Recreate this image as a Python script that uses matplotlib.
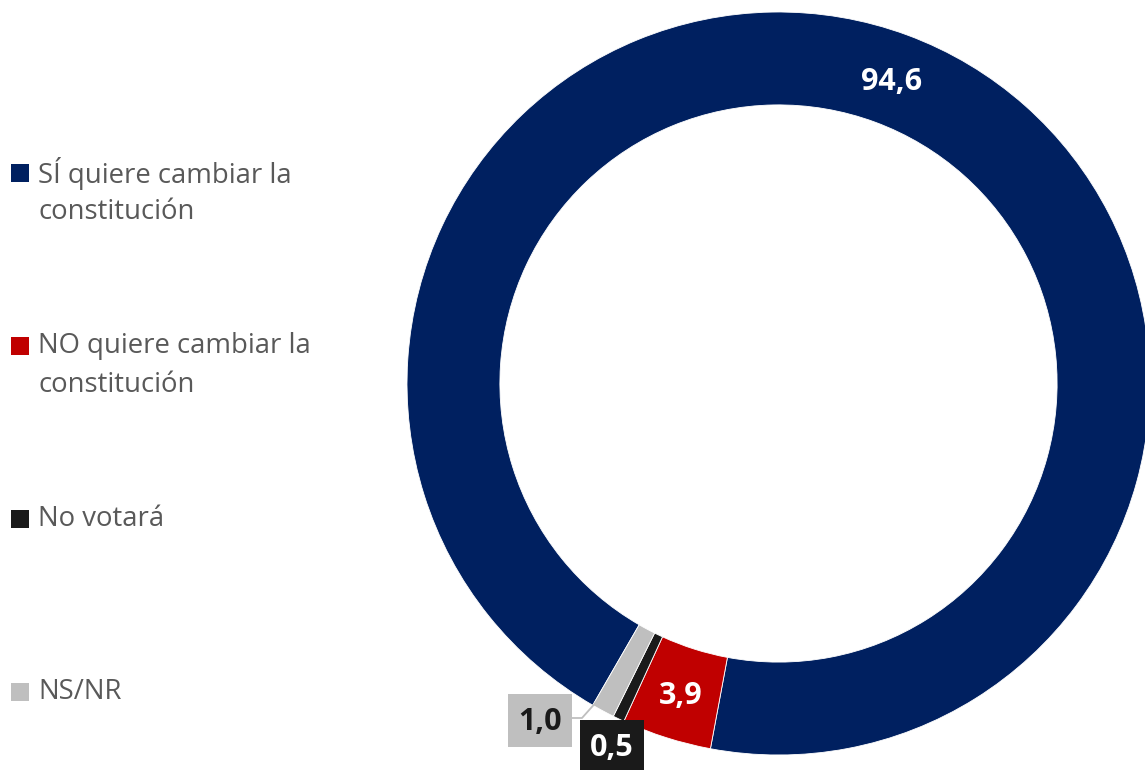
import numpy as np
import matplotlib.pyplot as plt
from matplotlib.patches import Rectangle

# data
categories = ["SÍ quiere cambiar la\nconstitución", "NO quiere cambiar la\nconstitución", "No votará", "NS/NR"]
values = [94.6, 3.9, 0.5, 1.0]
value_labels = ["94,6", "3,9", "0,5", "1,0"]
colors = ["#002060", "#C00000", "#1A1A1A", "#BFBFBF"]

W, H = 1145, 770
fig = plt.figure(figsize=(W / 100, H / 100), dpi=100)
ax = fig.add_axes([0, 0, 1, 1])

cx, cy = 778.5, H - 383.5
r_out, r_in = 371.5, 278.6
width = r_out - r_in
start = -120  # math degrees, slices go clockwise

wedges, _ = ax.pie(
    values,
    colors=colors,
    startangle=start,
    counterclock=False,
    radius=r_out,
    center=(cx, cy),
    wedgeprops=dict(width=width, edgecolor="white", linewidth=0.6),
)
ax.set_xlim(0, W)
ax.set_ylim(0, H)
ax.set_aspect("equal", adjustable="box")
ax.axis("off")

FONT = ["Open Sans", "DejaVu Sans"]
r_mid = (r_out + r_in) / 2


def mid_xy(w):
    ang = np.deg2rad((w.theta1 + w.theta2) / 2)
    return cx + r_mid * np.cos(ang), cy + r_mid * np.sin(ang)


# labels on the big slices
for i in (0, 1):
    x, y = mid_xy(wedges[i])
    ax.text(x, y - 3, value_labels[i], color="white", fontsize=22, fontweight="bold",
            ha="center", va="center", family=FONT)

# boxed labels for the small slices
box_w, box_h = 64, 53
boxes = {2: (612, H - 746, "white"), 3: (540, H - 720, "#1A1A1A")}
for i, (bx, by, tc) in boxes.items():
    ax.add_patch(Rectangle((bx - box_w / 2, by - box_h / 2), box_w, box_h,
                           facecolor=colors[i], edgecolor="none", zorder=3))
    ax.text(bx, by - 2, value_labels[i], color=tc, fontsize=22, fontweight="bold",
            ha="center", va="center", family=FONT, zorder=4)

# leader line for NS/NR
gx, gy = mid_xy(wedges[3])
ax.plot([540 + box_w / 2, 582, gx], [H - 718, H - 718, gy], color="#BFBFBF", lw=1.3, zorder=2)

# legend
leg_y = [173, 346, 519, 692]
line_gap = 39
for lab, c, ly in zip(categories, colors, leg_y):
    ax.add_patch(Rectangle((11, H - ly - 9), 18, 18, facecolor=c, edgecolor="none"))
    for k, line in enumerate(lab.split("\n")):
        ax.text(38, H - ly - k * line_gap, line, color="#595959", fontsize=19.8,
                ha="left", va="center", family=FONT)

fig.savefig("out.png", dpi=100)
